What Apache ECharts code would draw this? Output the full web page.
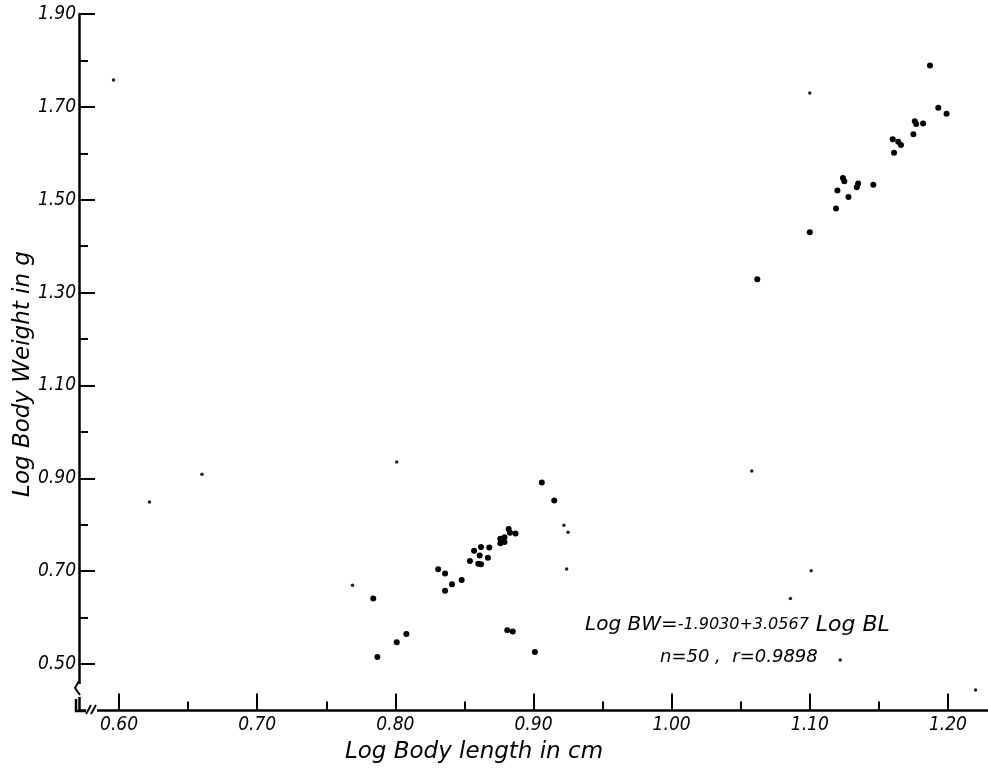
<!DOCTYPE html>
<html>
<head>
<meta charset="utf-8">
<script src="https://cdn.jsdelivr.net/npm/echarts@6/dist/echarts.min.js"></script>
<style>html,body{margin:0;padding:0;background:#fff}#c{width:988px;height:777px}</style>
</head>
<body>
<div id="c"></div>
<script>
// ---- tick labels ----
const xMajor = [0.60, 0.70, 0.80, 0.90, 1.00, 1.10, 1.20];
const xMinor = [0.65, 0.75, 0.85, 0.95, 1.05, 1.15];
const yMajor = [0.50, 0.70, 0.90, 1.10, 1.30, 1.50, 1.70, 1.90];
const yMinor = [0.60, 0.80, 1.00, 1.20, 1.40, 1.60, 1.80];

// ---- data: log body length (cm) / log body weight (g) ----
const logLength = [
  0.784, 0.787, 0.801, 0.808, 0.831, 0.836, 0.836, 0.841, 0.848, 0.854,
  0.857, 0.862, 0.861, 0.860, 0.862, 0.867, 0.868, 0.876, 0.876, 0.879,
  0.879, 0.882, 0.883, 0.887, 0.881, 0.885, 0.901, 0.915, 0.906,
  1.187, 1.193, 1.199, 1.176, 1.177, 1.182, 1.175, 1.160, 1.164, 1.166,
  1.161, 1.124, 1.125, 1.135, 1.134, 1.146, 1.120, 1.128, 1.119, 1.100,
  1.062
];
const logWeight = [
  0.641, 0.515, 0.547, 0.565, 0.704, 0.695, 0.658, 0.672, 0.681, 0.722,
  0.744, 0.752, 0.734, 0.716, 0.715, 0.729, 0.751, 0.760, 0.770, 0.773,
  0.763, 0.791, 0.783, 0.781, 0.573, 0.570, 0.526, 0.852, 0.891,
  1.789, 1.698, 1.685, 1.669, 1.663, 1.664, 1.641, 1.630, 1.625, 1.618,
  1.601, 1.547, 1.540, 1.535, 1.527, 1.532, 1.520, 1.506, 1.481, 1.430,
  1.329
];
// faint specks visible on the sheet
const speckLength = [0.596, 0.622, 0.660, 0.769, 0.922, 0.925, 0.924, 1.058, 1.101, 1.122, 1.086, 1.100, 1.220, 0.801];
const speckWeight = [1.758, 0.849, 0.909, 0.670, 0.799, 0.784, 0.705, 0.916, 0.701, 0.509, 0.641, 1.730, 0.444, 0.935];

const mainPts = logLength.map((v, i) => [v, logWeight[i]]);
const speckPts = speckLength.map((v, i) => [v, speckWeight[i]]);

const INK = '#000';
const numFont = '"Liberation Sans Narrow","DejaVu Sans Condensed","Liberation Sans",sans-serif';
const txtFont = '"DejaVu Sans",sans-serif';

const chart = echarts.init(document.getElementById('c'), null, {renderer: 'canvas'});
const gridBox = {left: 79, right: 0, top: 14, bottom: 66.5};
const xRange = {min: 0.571, max: 1.229};
const yRange = {min: 0.40, max: 1.90};

chart.setOption({
  animation: false,
  backgroundColor: '#fff',
  grid: [Object.assign({}, gridBox), Object.assign({}, gridBox)],
  xAxis: [
    Object.assign({
      type: 'value', gridIndex: 0,
      axisLine: {show: true, onZero: false, lineStyle: {color: INK, width: 2.5}},
      axisTick: {show: true, inside: true, length: 17, customValues: xMajor, lineStyle: {color: INK, width: 2}},
      axisLabel: {customValues: xMajor, formatter: v => v.toFixed(2), fontStyle: 'italic',
        fontFamily: numFont, fontSize: 19, color: INK, margin: 5},
      splitLine: {show: false}
    }, xRange),
    Object.assign({
      type: 'value', gridIndex: 1,
      axisLine: {show: false},
      axisTick: {show: true, inside: true, length: 9, customValues: xMinor, lineStyle: {color: INK, width: 2}},
      axisLabel: {show: false},
      splitLine: {show: false}
    }, xRange)
  ],
  yAxis: [
    Object.assign({
      type: 'value', gridIndex: 0,
      axisLine: {show: true, onZero: false, lineStyle: {color: INK, width: 2.5}},
      axisTick: {show: true, inside: true, length: 16, customValues: yMajor, lineStyle: {color: INK, width: 2}},
      axisLabel: {customValues: yMajor, formatter: v => v.toFixed(2), fontStyle: 'italic',
        fontFamily: numFont, fontSize: 19, color: INK, margin: 3},
      splitLine: {show: false}
    }, yRange),
    Object.assign({
      type: 'value', gridIndex: 1,
      axisLine: {show: false},
      axisTick: {show: true, inside: true, length: 9, customValues: yMinor, lineStyle: {color: INK, width: 2}},
      axisLabel: {show: false},
      splitLine: {show: false}
    }, yRange)
  ],
  series: [
    {type: 'scatter', xAxisIndex: 0, yAxisIndex: 0, data: mainPts, symbol: 'circle', symbolSize: 6,
      itemStyle: {color: INK, opacity: 1}, silent: true},
    {type: 'scatter', xAxisIndex: 0, yAxisIndex: 0, data: speckPts, symbol: 'circle', symbolSize: 3.5,
      itemStyle: {color: '#222', opacity: 1}, silent: true}
  ],
  graphic: [
    // axis breaks
    {type: 'rect', z: 100, shape: {x: 72, y: 684, width: 14, height: 13}, style: {fill: '#fff'}},
    {type: 'polyline', z: 101, shape: {points: [[79, 681], [75, 688], [80, 695]]}, style: {stroke: INK, lineWidth: 2, fill: null}},
    {type: 'rect', z: 100, shape: {x: 86, y: 702, width: 11, height: 10}, style: {fill: '#fff'}},
    {type: 'polyline', z: 101, shape: {points: [[76, 699], [76, 711], [86, 711]]}, style: {stroke: INK, lineWidth: 2.5, fill: null}},
    {type: 'line', z: 101, shape: {x1: 86, y1: 714, x2: 91, y2: 705}, style: {stroke: INK, lineWidth: 1.8}},
    {type: 'line', z: 101, shape: {x1: 91, y1: 714, x2: 96, y2: 705}, style: {stroke: INK, lineWidth: 1.8}},
    {type: 'rect', z: 100, shape: {x: 70, y: 708, width: 5, height: 8}, style: {fill: '#fff'}},
    // axis titles
    {type: 'text', z: 110, x: 474, y: 752,
      style: {text: 'Log Body length in cm', font: 'italic 23px ' + txtFont, fill: INK, align: 'center', verticalAlign: 'middle'}},
    {type: 'text', z: 110, x: 23, y: 374, rotation: Math.PI / 2,
      style: {text: 'Log Body Weight in g', font: 'italic 23px ' + txtFont, fill: INK, align: 'center', verticalAlign: 'middle'}},
    // regression annotation
    {type: 'text', z: 110, x: 585, y: 625,
      style: {
        text: '{a|Log BW=}{b|-1.9030+3.0567}{c| Log BL}',
        verticalAlign: 'middle', align: 'left', fill: INK,
        rich: {
          a: {font: 'italic 20px ' + txtFont, fill: INK},
          b: {font: 'italic 16px ' + txtFont, fill: INK},
          c: {font: 'italic 22px ' + txtFont, fill: INK}
        }
      }},
    {type: 'text', z: 110, x: 660, y: 657,
      style: {text: 'n=50 ,  r=0.9898', font: 'italic 18px ' + txtFont, fill: INK, align: 'left', verticalAlign: 'middle'}}
  ]
});
</script>
</body>
</html>
